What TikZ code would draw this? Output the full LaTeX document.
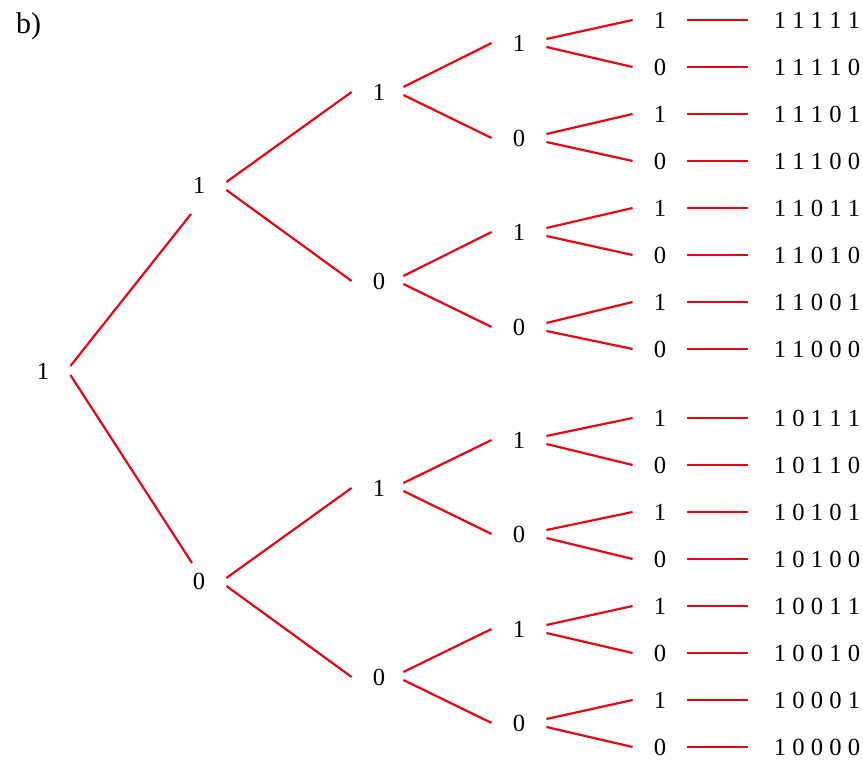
\documentclass[tikz,border=0pt]{standalone}
\usepackage{fontspec}
\setmainfont{Liberation Serif}
\usepackage{xcolor}
\usepackage{tikz}
\usetikzlibrary{positioning, calc}
\definecolor{treered}{RGB}{227,6,19}

\begin{document}
\begin{tikzpicture}[
    x=0.5pt, y=-0.5pt,
    font=\fontsize{12.3}{14}\selectfont,
    bit/.style={rectangle, inner sep=0pt, minimum width=27pt},
    word/.style={rectangle, inner ysep=0pt, inner xsep=13pt},
    branch/.style={draw=treered, line width=1.1pt}
]
\useasboundingbox (0,0) rectangle (863,760);

\node[anchor=base west, font=\fontsize{15}{17}\selectfont] (label) at (9,33) {b)};

% levels 0 to 2
\node[bit] (t1) at (43,371) {1};
\node[bit] (t11) at (199,185) {1};
\node[bit] (t10) at (199,581) {0};
\node[bit] (t111) at (379,92) {1};
\node[bit] (t110) at (379,281) {0};
\node[bit] (t101) at (379,488) {1};
\node[bit] (t100) at (379,677) {0};

% level 3
\node[bit] (t1111) at (519,43) {1};
\node[bit] (t1110) at (519,138) {0};
\node[bit] (t1101) at (519,232) {1};
\node[bit] (t1100) at (519,327) {0};
\node[bit] (t1011) at (519,440) {1};
\node[bit] (t1010) at (519,534) {0};
\node[bit] (t1001) at (519,629) {1};
\node[bit] (t1000) at (519,723) {0};

% level 4
\node[bit] (t11111) at (660,20) {1};
\node[bit] (t11110) at (660,67) {0};
\node[bit] (t11101) at (660,114) {1};
\node[bit] (t11100) at (660,161) {0};
\node[bit] (t11011) at (660,208) {1};
\node[bit] (t11010) at (660,255) {0};
\node[bit] (t11001) at (660,302) {1};
\node[bit] (t11000) at (660,349) {0};
\node[bit] (t10111) at (660,418) {1};
\node[bit] (t10110) at (660,465) {0};
\node[bit] (t10101) at (660,512) {1};
\node[bit] (t10100) at (660,559) {0};
\node[bit] (t10011) at (660,606) {1};
\node[bit] (t10010) at (660,653) {0};
\node[bit] (t10001) at (660,700) {1};
\node[bit] (t10000) at (660,747) {0};

% resulting words
\node[word] (s11111) at (817,20) {1 1 1 1 1};
\node[word] (s11110) at (817,67) {1 1 1 1 0};
\node[word] (s11101) at (817,114) {1 1 1 0 1};
\node[word] (s11100) at (817,161) {1 1 1 0 0};
\node[word] (s11011) at (817,208) {1 1 0 1 1};
\node[word] (s11010) at (817,255) {1 1 0 1 0};
\node[word] (s11001) at (817,302) {1 1 0 0 1};
\node[word] (s11000) at (817,349) {1 1 0 0 0};
\node[word] (s10111) at (817,418) {1 0 1 1 1};
\node[word] (s10110) at (817,465) {1 0 1 1 0};
\node[word] (s10101) at (817,512) {1 0 1 0 1};
\node[word] (s10100) at (817,559) {1 0 1 0 0};
\node[word] (s10011) at (817,606) {1 0 0 1 1};
\node[word] (s10010) at (817,653) {1 0 0 1 0};
\node[word] (s10001) at (817,700) {1 0 0 0 1};
\node[word] (s10000) at (817,747) {1 0 0 0 0};

% branches
\draw[branch] ([shift={(0,-5)}]t1.east) -- ([shift={(-8,29)}]t11.center);
\draw[branch] ([shift={(0,4)}]t1.east) -- ([shift={(-7,-18)}]t10.center);

\draw[branch] ([shift={(0,-3)}]t11.east) -- (t111.west);
\draw[branch] ([shift={(0,5)}]t11.east) -- (t110.west);
\draw[branch] ([shift={(0,-3)}]t10.east) -- (t101.west);
\draw[branch] ([shift={(0,5)}]t10.east) -- (t100.west);

\draw[branch] ([shift={(-3,-5)}]t111.east) -- (t1111.west);
\draw[branch] ([shift={(-3,3)}]t111.east) -- (t1110.west);
\draw[branch] ([shift={(-3,-5)}]t110.east) -- (t1101.west);
\draw[branch] ([shift={(-3,3)}]t110.east) -- (t1100.west);
\draw[branch] ([shift={(-3,-5)}]t101.east) -- (t1011.west);
\draw[branch] ([shift={(-3,3)}]t101.east) -- (t1010.west);
\draw[branch] ([shift={(-3,-5)}]t100.east) -- (t1001.west);
\draw[branch] ([shift={(-3,3)}]t100.east) -- (t1000.west);

\draw[branch] ([shift={(0,-4)}]t1111.east) -- (t11111.west);
\draw[branch] ([shift={(0,4)}]t1111.east) -- (t11110.west);
\draw[branch] ([shift={(0,-4)}]t1110.east) -- (t11101.west);
\draw[branch] ([shift={(0,4)}]t1110.east) -- (t11100.west);
\draw[branch] ([shift={(0,-4)}]t1101.east) -- (t11011.west);
\draw[branch] ([shift={(0,4)}]t1101.east) -- (t11010.west);
\draw[branch] ([shift={(0,-4)}]t1100.east) -- (t11001.west);
\draw[branch] ([shift={(0,4)}]t1100.east) -- (t11000.west);
\draw[branch] ([shift={(0,-4)}]t1011.east) -- (t10111.west);
\draw[branch] ([shift={(0,4)}]t1011.east) -- (t10110.west);
\draw[branch] ([shift={(0,-4)}]t1010.east) -- (t10101.west);
\draw[branch] ([shift={(0,4)}]t1010.east) -- (t10100.west);
\draw[branch] ([shift={(0,-4)}]t1001.east) -- (t10011.west);
\draw[branch] ([shift={(0,4)}]t1001.east) -- (t10010.west);
\draw[branch] ([shift={(0,-4)}]t1000.east) -- (t10001.west);
\draw[branch] ([shift={(0,4)}]t1000.east) -- (t10000.west);

% leaves to words
\draw[branch] (t11111.east) -- (s11111.west);
\draw[branch] (t11110.east) -- (s11110.west);
\draw[branch] (t11101.east) -- (s11101.west);
\draw[branch] (t11100.east) -- (s11100.west);
\draw[branch] (t11011.east) -- (s11011.west);
\draw[branch] (t11010.east) -- (s11010.west);
\draw[branch] (t11001.east) -- (s11001.west);
\draw[branch] (t11000.east) -- (s11000.west);
\draw[branch] (t10111.east) -- (s10111.west);
\draw[branch] (t10110.east) -- (s10110.west);
\draw[branch] (t10101.east) -- (s10101.west);
\draw[branch] (t10100.east) -- (s10100.west);
\draw[branch] (t10011.east) -- (s10011.west);
\draw[branch] (t10010.east) -- (s10010.west);
\draw[branch] (t10001.east) -- (s10001.west);
\draw[branch] (t10000.east) -- (s10000.west);

\end{tikzpicture}
\end{document}
